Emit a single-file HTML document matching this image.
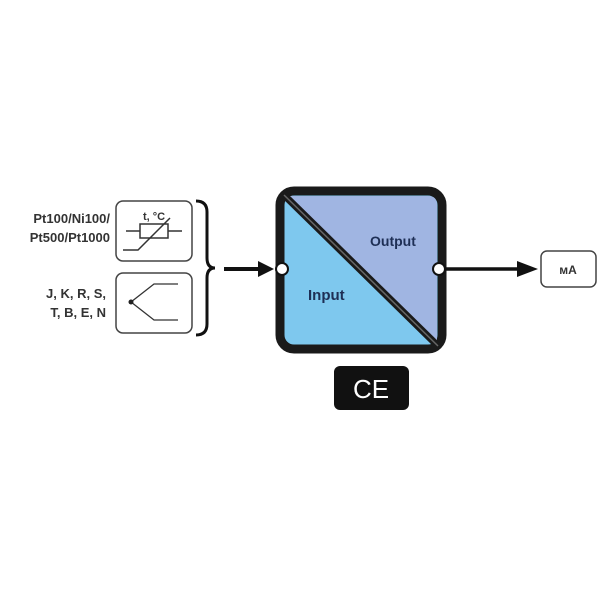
<!DOCTYPE html>
<html><head><style>body{margin:0;background:#fff}svg{display:block}</style></head><body>
<svg width="600" height="600" viewBox="0 0 600 600" xmlns="http://www.w3.org/2000/svg" font-family="Liberation Sans, sans-serif">
<g font-weight="bold" font-size="13" fill="#333" text-anchor="end">
<text x="110" y="223">Pt100/Ni100/</text>
<text x="110" y="242">Pt500/Pt1000</text>
<text x="106" y="298">J, K, R, S,</text>
<text x="106" y="317">T, B, E, N</text>
</g>
<rect x="116" y="201" width="76" height="60" rx="7" fill="#fff" stroke="#444" stroke-width="1.5"/>
<rect x="116" y="273" width="76" height="60" rx="7" fill="#fff" stroke="#444" stroke-width="1.5"/>
<text x="154" y="220" font-size="11" font-weight="bold" fill="#333" text-anchor="middle">t, °C</text>
<g stroke="#333" stroke-width="1.5" fill="none">
<rect x="140" y="224" width="28" height="14"/>
<line x1="126" y1="231" x2="140" y2="231"/><line x1="168" y1="231" x2="182" y2="231"/>
<polyline points="123,250 138,250 170,218"/>
<polyline points="178,284 154,284 131,302 154,320 178,320" stroke-width="1.3"/>
</g>
<circle cx="131" cy="302" r="2.5" fill="#222"/>
<path d="M196,201 Q207,201 207,212 L207,258 Q207,268 215,268 Q207,268 207,278 L207,324 Q207,335 196,335" fill="none" stroke="#111" stroke-width="3"/>
<line x1="224" y1="269" x2="262" y2="269" stroke="#111" stroke-width="4"/>
<polygon points="258,261 274,269 258,277" fill="#111"/>
<rect x="280" y="191" width="162" height="158" rx="14" fill="#7ec8ee" stroke="#1a1a1a" stroke-width="9"/>
<path d="M286,196 L428,196 Q437,196 437,205 L437,343 Z" fill="#a0b5e2"/>
<line x1="284" y1="195" x2="438" y2="346" stroke="#1a1a1a" stroke-width="7"/>
<line x1="284" y1="195" x2="438" y2="346" stroke="#666" stroke-width="1.5"/>
<text x="370" y="246" font-size="14" font-weight="bold" fill="#1e2f55">Output</text>
<text x="308" y="300" font-size="15" font-weight="bold" fill="#1e2f55">Input</text>
<circle cx="282" cy="269" r="6" fill="#fff" stroke="#111" stroke-width="2"/>
<circle cx="439" cy="269" r="6" fill="#fff" stroke="#111" stroke-width="2"/>
<line x1="445" y1="269" x2="522" y2="269" stroke="#111" stroke-width="3.5"/>
<polygon points="517,261 538,269 517,277" fill="#111"/>
<rect x="541" y="251" width="55" height="36" rx="6" fill="#fff" stroke="#444" stroke-width="1.5"/>
<text x="568" y="274" font-size="12" font-weight="bold" fill="#333" text-anchor="middle">мА</text>
<rect x="334" y="366" width="75" height="44" rx="6" fill="#111"/>
<text x="371" y="398" font-size="26" fill="#fff" text-anchor="middle">CE</text>
</svg>
</body></html>
